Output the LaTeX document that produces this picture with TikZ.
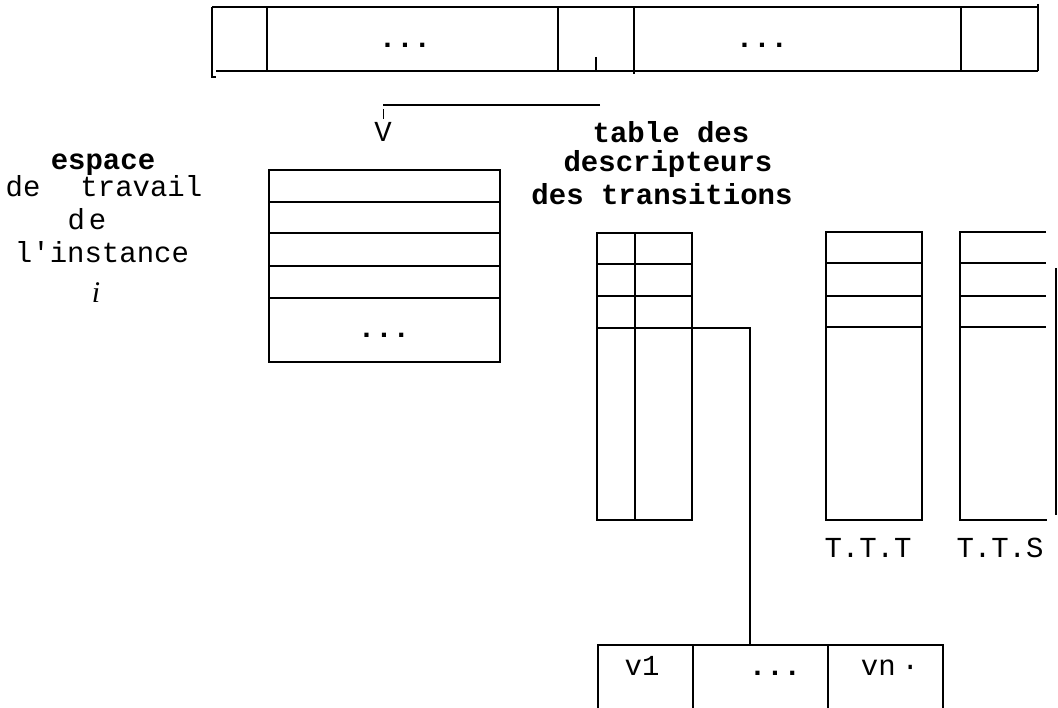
\documentclass[tikz,border=0pt]{standalone}
\usepackage{fontspec}
\setmonofont{Liberation Mono}
\newfontfamily\seriffont{Liberation Serif}
\begin{document}
\begin{tikzpicture}[x=1pt,y=-1pt,
  bar/.style={line width=2.8pt},
  ln/.style={line width=1.8pt},
  txt/.style={font=\ttfamily\fontsize{29}{33}\selectfont, inner sep=0pt, anchor=base},
  btxt/.style={font=\ttfamily\bfseries\fontsize{29}{33}\selectfont, inner sep=0pt, anchor=base},
  itxt/.style={font=\seriffont\itshape\fontsize{30}{34}\selectfont, inner sep=0pt, anchor=base}]
\useasboundingbox (0,0) rectangle (1058,708);
% top bar
\draw[bar] (212,7) -- (1038,7);
\draw[bar] (216,71) -- (1038,71);
\draw[bar] (212,7) -- (212,77) -- (216,77);
\draw[bar] (1038,4) -- (1038,71);
\foreach \x in {267,558,961} \draw[bar] (\x,7) -- (\x,71);
\draw[bar] (634,7) -- (634,74);
\draw[ln] (596,57) -- (596,70);
\node[btxt] (d1) at (405,48) {...};
\node[btxt] (d2) at (762,48) {...};
% pointer
\coordinate (p0) at (600,105);
\coordinate (p1) at (383,105);
\coordinate (p2) at (383,109);
\coordinate (p3) at (383,119);
\draw[bar] (p0) -- (p1);
\draw[line width=1pt] (p2) -- (p3);
\node[txt] (V) at (383,142) {V};
% left text
\node[btxt] (t1) at (103,170) {espace};
\node[txt] (t2) at (104,197) {de\hspace{40pt}travail};
\node[txt] (t3) at (87,230) {d\hspace{4pt}e};
\node[txt] (t4) at (102,263) {l'instance};
\node[itxt] (t5) at (96,303) {i};
% heading
\node[btxt] (h1) at (671,143) {table des};
\node[btxt] (h2) at (668,172) {descripteurs};
\node[btxt] (h3) at (662,205) {des transitions};
% left table
\draw[ln] (269,170) rectangle (500,362);
\foreach \y in {202,233,266,298} \draw[ln] (269,\y) -- (500,\y);
\node[btxt] (d3) at (384,338) {...};
% transitions table
\draw[ln] (597,233) rectangle (692,520);
\draw[ln] (635,233) -- (635,520);
\foreach \y in {264,296} \draw[ln] (597,\y) -- (692,\y);
\coordinate (c0) at (597,328);
\coordinate (c1) at (750,328);
\coordinate (c2) at (750,645);
\draw[ln] (c0) -- (c1) -- (c2);
% bottom table
\draw[ln] (598,708) -- (598,645) -- (943,645) -- (943,708);
\foreach \x in {693,828} \draw[ln] (\x,645) -- (\x,708);
\node[txt] (v1) at (642,675) {v1};
\node[btxt] (v2) at (775,675) {...};
\node[txt] (vn) at (890,675) {vn\hspace{6pt}·};
% TTT
\draw[ln] (826,232) rectangle (922,520);
\foreach \y in {263,296,327} \draw[ln] (826,\y) -- (922,\y);
\node[txt] (ttt) at (868,557) {T.T.T};
% TTS
\draw[ln] (1046,232) -- (960,232) -- (960,520) -- (1047,520);
\foreach \y in {263,296,327} \draw[ln] (960,\y) -- (1046,\y);
\draw[ln] (1056,268) -- (1056,515);
\node[txt] (tts) at (1000,557) {T.T.S};
\end{tikzpicture}
\end{document}
